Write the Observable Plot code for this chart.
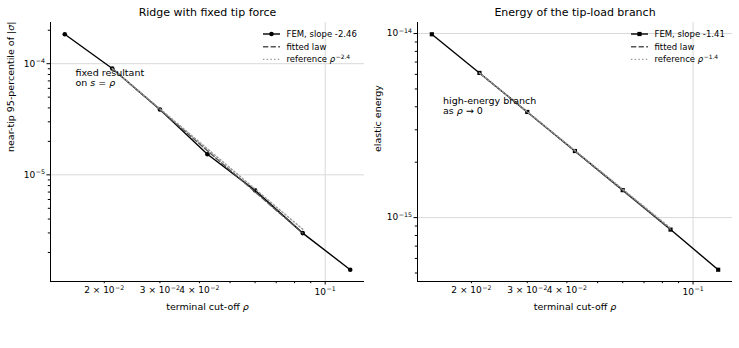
<!DOCTYPE html>
<html>
<head>
<meta charset="utf-8">
<script src="https://cdn.jsdelivr.net/npm/d3@7"></script>
<script src="https://cdn.jsdelivr.net/npm/@observablehq/plot@0.6"></script>
<style>
  body { margin: 0; background: #fff; }
  #fig { position: relative; width: 739px; height: 348px; font-family: "DejaVu Sans", sans-serif; }
  #fig > svg { position: absolute; top: 0; }
</style>
</head>
<body>
<div id="fig"></div>
<script>
// Terminal cut-off radii ρ (shared by both panels)
const rho = [0.015, 0.0212, 0.03, 0.0424, 0.06, 0.0849, 0.12];
// Near-tip 95th percentile of |σ| (FEM)
const sigma95 = [1.84e-4, 9.05e-5, 3.87e-5, 1.53e-5, 7.25e-6, 2.99e-6, 1.40e-6];
// Elastic energy of the tip-load branch (FEM)
const energy = [9.91e-15, 6.11e-15, 3.75e-15, 2.30e-15, 1.41e-15, 8.61e-16, 5.21e-16];

// Fit range end points, fitted power laws and reference slopes
const fitRho = [0.0212, 0.0849];
const sigmaFit = [9.05e-5, 2.99e-6];
const sigmaRef = [9.05e-5, 3.24e-6];
const energyFit = [6.11e-15, 8.61e-16];
const energyRef = [6.11e-15, 8.78e-16];

// Tick labels (^{…} marks a superscript, *…* italic math)
const xMajorTicks = [0.1];
const xMajorText = ["10^{−1}"];
const xLabeledTicks = [0.02, 0.03, 0.04, 0.06];
const xLabeledText = ["2 × 10^{−2}", "3 × 10^{−2}", "4 × 10^{−2}", "6 × 10^{−2}"];
const sigmaMajorTicks = [1e-5, 1e-4];
const sigmaMajorText = ["10^{−5}", "10^{−4}"];
const energyMajorTicks = [1e-15, 1e-14];
const energyMajorText = ["10^{−15}", "10^{−14}"];

const H = 348;
const INK = "#000";
const GRID = "#d9d9d9";

// log-space padding of 5% on each side of the data extent
function padLog(values, frac = 0.05) {
  const [lo, hi] = d3.extent(values).map(Math.log10);
  const p = (hi - lo) * frac;
  return [10 ** (lo - p), 10 ** (hi + p)];
}
const near = (a, b) => Math.abs(Math.log10(a / b)) < 1e-6;
function minorTicks(domain) {
  return d3.scaleLog().domain(domain).ticks()
    .filter(v => Math.abs(Math.log10(v) - Math.round(Math.log10(v))) > 1e-6);
}
function lookup(ticks, texts) {
  return d => { const i = ticks.findIndex(t => near(t, d)); return i < 0 ? "" : texts[i]; };
}

// Turn the tiny markup into tspans: ^{…} superscript, *…* italic
function richText(svg) {
  const NS = "http://www.w3.org/2000/svg";
  svg.querySelectorAll("text").forEach(el => {
    const lines = el.querySelectorAll("tspan");
    const targets = lines.length ? Array.from(lines) : [el];
    const fs = parseFloat(getComputedStyle(el).fontSize) || 9;
    for (const t of targets) {
      const s = t.textContent;
      if (!/[\^*]/.test(s)) continue;
      t.textContent = "";
      let shift = 0;
      for (const part of s.split(/(\^\{[^}]*\}|\*[^*]+\*)/)) {
        if (!part) continue;
        const span = document.createElementNS(NS, "tspan");
        if (part.startsWith("^{")) {
          const rise = fs * 0.42;
          span.textContent = part.slice(2, -1);
          span.setAttribute("font-size", (fs * 0.7).toFixed(2));
          span.setAttribute("dy", (-rise - shift).toFixed(2));
          span.setAttribute("dx", "0.5");
          shift = rise;
        } else {
          if (part.startsWith("*")) {
            span.textContent = part.slice(1, -1);
            span.setAttribute("font-style", "italic");
          } else {
            span.textContent = part;
          }
          if (shift) { span.setAttribute("dy", shift.toFixed(2)); shift = 0; }
        }
        t.appendChild(span);
      }
    }
  });
}

// Legend in the upper-right corner of a panel
function addLegend(svg, plot, entries) {
  const xr = plot.scale("x").range, yr = plot.scale("y").range;
  const right = Math.max(...xr), top = Math.min(...yr);
  const g = d3.select(svg).append("g")
    .attr("font-size", 8.5).attr("fill", INK).attr("text-anchor", "start");
  entries.forEach((e, i) => {
    const y = top + 12 + i * 12.7;
    const s0 = right - 101, s1 = right - 84;
    g.append("line").attr("x1", s0).attr("x2", s1).attr("y1", y).attr("y2", y)
      .attr("stroke", e.stroke).attr("stroke-width", 1.4)
      .attr("stroke-dasharray", e.dash || null);
    if (e.symbol === "circle") {
      g.append("circle").attr("cx", (s0 + s1) / 2).attr("cy", y).attr("r", 2.3).attr("fill", e.stroke);
    } else if (e.symbol === "square") {
      g.append("rect").attr("x", (s0 + s1) / 2 - 2.1).attr("y", y - 2.1)
        .attr("width", 4.2).attr("height", 4.2).attr("fill", e.stroke);
    }
    g.append("text").attr("x", right - 77.5).attr("y", y).attr("dy", "0.34em")
      .attr("text-anchor", "start").text(e.label);
  });
}

function panel(o) {
  const rows = rho.map((r, i) => ({rho: r, v: o.values[i]}));
  const fitRows = fitRho.map((r, i) => ({rho: r, v: o.fit[i]}));
  const refRows = fitRho.map((r, i) => ({rho: r, v: o.ref[i]}));
  const xDomain = padLog(rho), yDomain = padLog(o.values);
  const plot = Plot.plot({
    width: o.width, height: H,
    marginLeft: o.marginLeft, marginRight: o.marginRight, marginTop: 22, marginBottom: 67,
    x: {type: "log", domain: xDomain, axis: null, label: null},
    y: {type: "log", domain: yDomain, axis: null, label: null},
    style: {fontFamily: "DejaVu Sans", fontSize: "9px", color: INK, background: "transparent", overflow: "visible"},
    marks: [
      // major grid
      Plot.ruleX(xMajorTicks, {stroke: GRID, strokeWidth: 1}),
      Plot.ruleY(o.yMajor, {stroke: GRID, strokeWidth: 1}),
      // left and bottom spines
      Plot.ruleX([xDomain[0]], {stroke: INK, strokeWidth: 1}),
      Plot.ruleY([yDomain[0]], {stroke: INK, strokeWidth: 1}),
      // ticks
      Plot.axisX(xMajorTicks, {tickSize: 3.5, tickPadding: 3.5, tickFormat: lookup(xMajorTicks, xMajorText), label: null}),
      Plot.axisX(minorTicks(xDomain), {tickSize: 2.2, tickPadding: 3.3, tickFormat: lookup(xLabeledTicks, xLabeledText), label: null}),
      Plot.axisY(o.yMajor, {tickSize: 3.5, tickPadding: 2, tickFormat: lookup(o.yMajor, o.yMajorText), label: null}),
      Plot.axisY(minorTicks(yDomain), {tickSize: 2.2, tickFormat: () => "", label: null}),
      // FEM series
      Plot.line(rows, {x: "rho", y: "v", stroke: INK, strokeWidth: 1.4}),
      Plot.dot(rows, {x: "rho", y: "v", r: o.symbol === "square" ? 2.35 : 2.3, symbol: o.symbol, fill: INK, stroke: "none"}),
      // fitted law and reference slope
      Plot.line(fitRows, {x: "rho", y: "v", stroke: "#555", strokeWidth: 1.4, strokeDasharray: "5.3,2.3"}),
      Plot.line(refRows, {x: "rho", y: "v", stroke: "#999", strokeWidth: 1.4, strokeDasharray: "1.4,2.3"}),
      // annotation
      Plot.text([o.note], {text: d => d, frameAnchor: "top-left", dx: o.noteDx, dy: o.noteDy,
        textAnchor: "start", lineAnchor: "top", lineHeight: 1.06, fontSize: 9.5}),
      // title and axis labels
      Plot.text([o.title], {text: d => d, frameAnchor: "top", dy: -10.3, lineAnchor: "middle", fontSize: 11}),
      Plot.text(["terminal cut-off *ρ*"], {text: d => d, frameAnchor: "bottom", dy: 25, lineAnchor: "middle", fontSize: 9.5}),
      Plot.text([o.yLabel], {text: d => d, frameAnchor: "left", dx: o.yLabelDx, rotate: -90, lineAnchor: "middle", fontSize: 9.5})
    ]
  });
  plot.style.left = o.left + "px";
  return plot;
}

const fig = document.getElementById("fig");

const left = panel({
  left: 0, width: 370, marginLeft: 50, marginRight: 6,
  values: sigma95, fit: sigmaFit, ref: sigmaRef, symbol: "circle",
  yMajor: sigmaMajorTicks, yMajorText: sigmaMajorText,
  title: "Ridge with fixed tip force",
  yLabel: "near-tip 95-percentile of |*σ*|", yLabelDx: -40,
  note: "fixed resultant\non *s* = *ρ*", noteDx: 25, noteDy: 46.3
});
const right = panel({
  left: 370, width: 369, marginLeft: 47, marginRight: 7,
  values: energy, fit: energyFit, ref: energyRef, symbol: "square",
  yMajor: energyMajorTicks, yMajorText: energyMajorText,
  title: "Energy of the tip-load branch",
  yLabel: "elastic energy", yLabelDx: -39.7,
  note: "high-energy branch\nas *ρ* → 0", noteDx: 25.5, noteDy: 74.2
});
fig.appendChild(left);
fig.appendChild(right);

addLegend(left, left, [
  {label: "FEM, slope -2.46", stroke: INK, symbol: "circle"},
  {label: "fitted law", stroke: "#555", dash: "5.3,2.3"},
  {label: "reference *ρ*^{−2.4}", stroke: "#999", dash: "1.4,2.3"}
]);
addLegend(right, right, [
  {label: "FEM, slope -1.41", stroke: INK, symbol: "square"},
  {label: "fitted law", stroke: "#555", dash: "5.3,2.3"},
  {label: "reference *ρ*^{−1.4}", stroke: "#999", dash: "1.4,2.3"}
]);

richText(left);
richText(right);
</script>
</body>
</html>
